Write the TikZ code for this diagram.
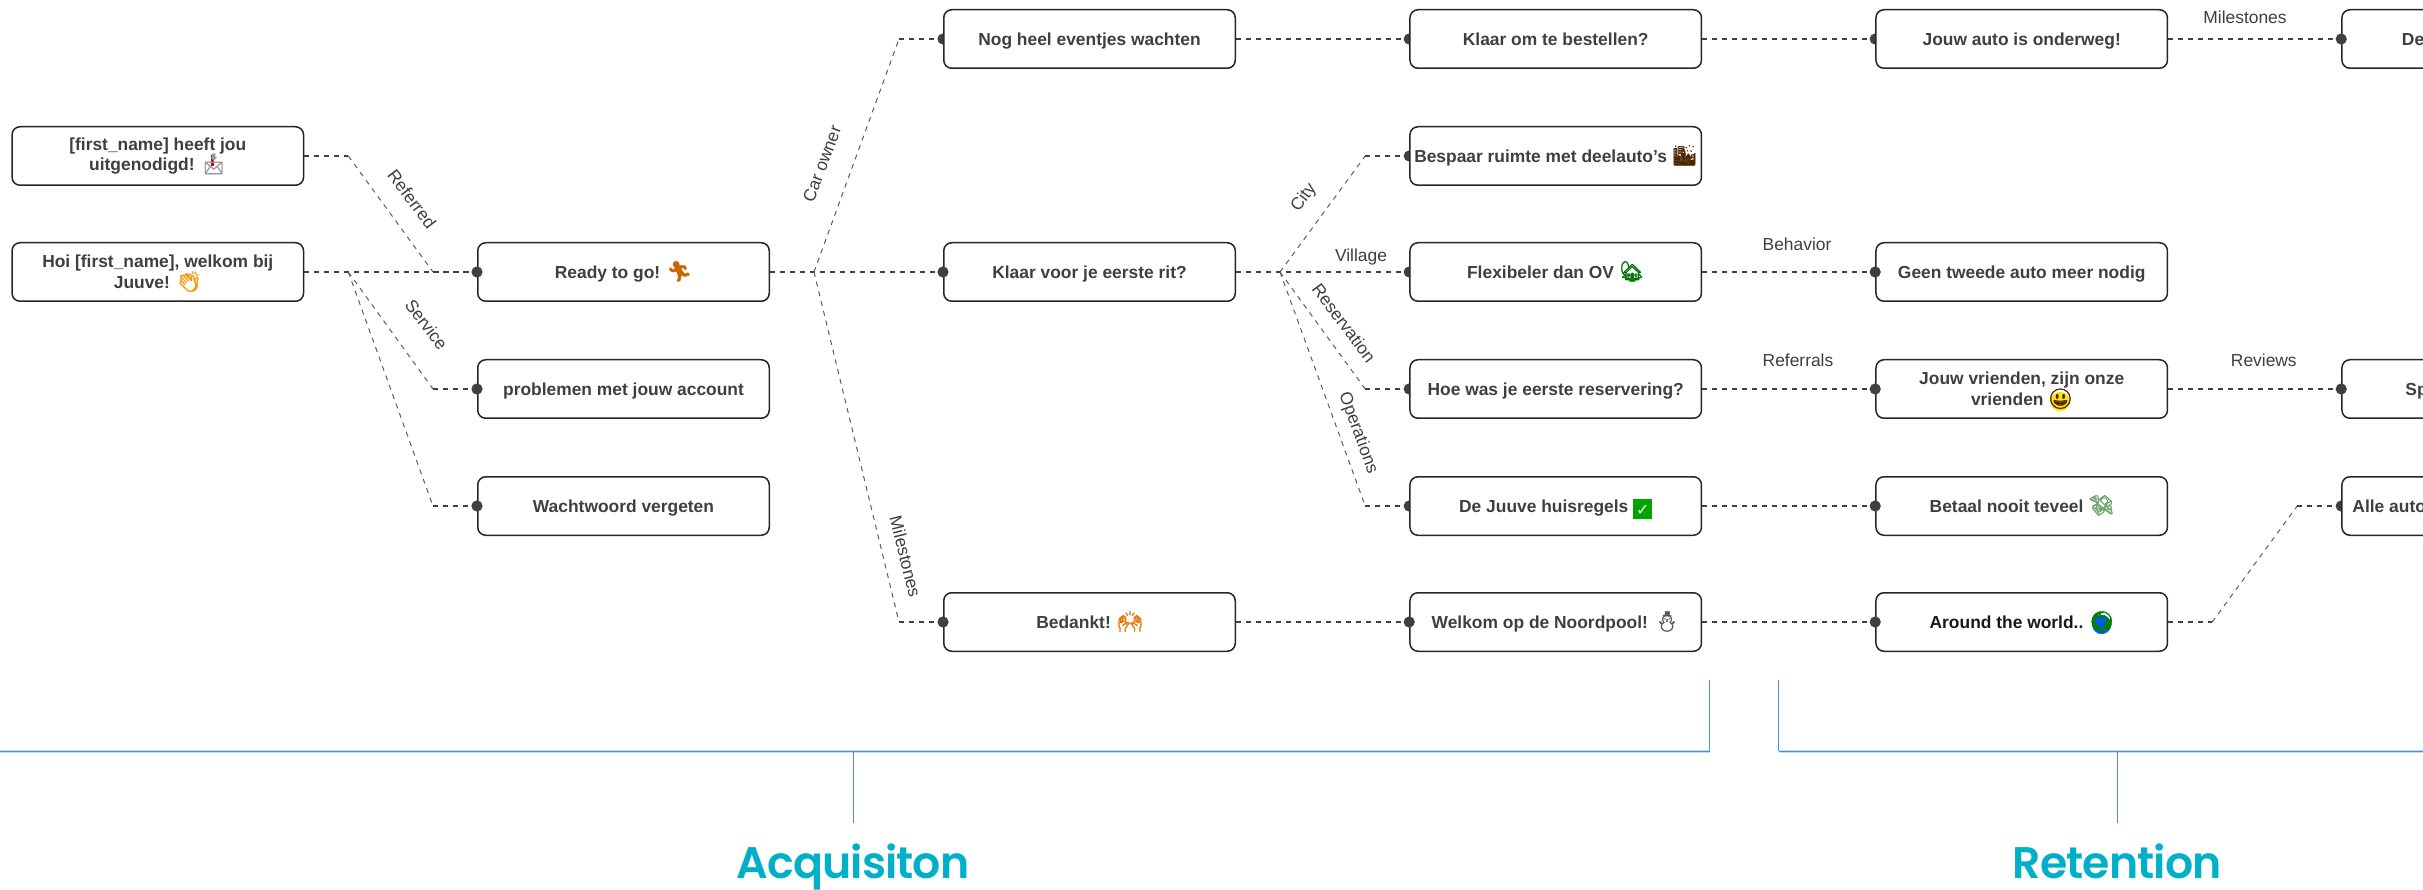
\documentclass[tikz,border=0pt]{standalone}
\usepackage{fontspec}
\usetikzlibrary{calc}
\setmainfont{Liberation Sans}
\newfontfamily\emojif{Noto Emoji}[FakeBold=1.6]
\newfontfamily\dejavuf{DejaVu Sans}
\newfontfamily\titlef{Poppins SemiBold}[LetterSpace=-2]
\definecolor{ink}{HTML}{3F3F3F}
\definecolor{edgeink}{HTML}{404040}
\definecolor{teal}{HTML}{00AFC8}
\definecolor{blueline}{HTML}{4A90D9}
\definecolor{paleblue}{HTML}{C6DCF3}
\newcommand\emo[2]{\smash{\textcolor{#1}{{\emojif\fontsize{20}{21}\selectfont #2}}}}
\newcommand\emobg[3]{\smash{\rlap{\makebox[24pt][c]{\raisebox{-3pt}{\textcolor{#1}{\dejavuf\fontsize{25}{25}\selectfont ●}}}}\makebox[24pt][c]{\emo{#2}{#3}}}}
\newcommand\checkbox{\smash{\raisebox{-3pt}{\fboxsep=1pt\colorbox{green!65!black}{\makebox[17pt][c]{\rule[-3pt]{0pt}{18pt}\textcolor{white}{\dejavuf\fontsize{16}{16}\selectfont ✓}}}}}}
\newcommand\mailemo{\smash{\rlap{\hspace{10.5pt}\textcolor{red!85!black}{\rule[5pt]{2.4pt}{11pt}}}\emo{black!40}{📩}}}
\newcommand\straight[2]{\draw[hseg] (#1.east) -- (#2.west);}
\newcommand\elbow[2]{%
  \draw[hseg] (#1.east) -- ++(44,0) coordinate (c1);
  \draw[dseg] (c1) -- ($(#2.west)+(-44,0)$) coordinate (c2);
  \draw[hseg] (c2) -- (#2.west);}
\newcommand\fulldot[1]{\fill[edgeink] (#1.west) circle (5.6pt);}
\newcommand\halfdot[1]{\begin{scope}\clip ($(#1.west)+(-8,-8)$) rectangle ($(#1.west)+(0,8)$);\fill[edgeink] (#1.west) circle (5.6pt);\end{scope}}
\tikzset{
  box/.style={draw=black!85,line width=1.5pt,rounded corners=8pt,fill=white,minimum width=291.5pt,minimum height=58.5pt,
    inner sep=0pt,align=center,text=ink,font=\fontsize{17.4}{20.7}\selectfont\bfseries},
  onebox/.style={box,execute at begin node={\rule[-5pt]{0pt}{22.5pt}}},
  hseg/.style={draw=edgeink,line width=1.8pt,dash pattern=on 5pt off 5pt},
  dseg/.style={draw=edgeink!85,line width=1pt,dash pattern=on 5pt off 5pt},
  lab/.style={text=ink,font=\fontsize{17.4}{20}\selectfont,inner sep=0pt},
  halo/.style={draw=paleblue,line width=3.2pt},
  hbar/.style={draw=blueline,line width=1.4pt},
  vbar/.style={draw=blueline,line width=1pt},
  big/.style={text=teal,font=\titlef\fontsize{44.2}{50}\selectfont,inner sep=0pt,anchor=base}
}
\begin{document}
\begin{tikzpicture}[x=1pt,y=-1pt]
\useasboundingbox (0,0) rectangle (2423,890);
\clip (0,0) rectangle (2423,890);
\fill[white] (0,0) rectangle (2423,890);
% column 0
\node[box] (invite) at (157.8,156) {[first\_name] heeft jou\\uitgenodigd! \mailemo};
\node[box] (hoi) at (157.8,272) {Hoi [first\_name], welkom bij\\Juuve! \emo{orange!85!yellow}{👏}};
% column 1
\node[onebox] (ready) at (623.5,272) {Ready to go! \emo{orange!80!black}{🏃}};
\node[onebox] (problem) at (623.5,389) {problemen met jouw account};
\node[onebox] (wacht) at (623.5,506) {Wachtwoord vergeten};
% column 2
\node[onebox] (nog) at (1089.5,39) {Nog heel eventjes wachten};
\node[onebox] (klaarrit) at (1089.5,272) {Klaar voor je eerste rit?};
\node[onebox] (bedankt) at (1089.5,622) {Bedankt! \emo{orange!90!black}{🙌}};
% column 3
\node[onebox] (bestellen) at (1555.7,39) {Klaar om te bestellen?};
\node[onebox] (bespaar) at (1555.7,156) {Bespaar ruimte met deelauto's \emo{black!70!orange}{🌆}};
\node[onebox] (flex) at (1555.7,272) {Flexibeler dan OV \emo{green!45!black}{🏡}};
\node[onebox] (hoe) at (1555.7,389) {Hoe was je eerste reservering?};
\node[onebox] (regels) at (1555.7,506) {De Juuve huisregels \checkbox};
\node[onebox] (noord) at (1555.7,622) {Welkom op de Noordpool! \emo{black!65}{⛄}};
% column 4
\node[onebox] (onderweg) at (2021.7,39) {Jouw auto is onderweg!};
\node[onebox] (tweede) at (2021.7,272) {Geen tweede auto meer nodig};
\node[box] (vrienden) at (2021.7,389) {Jouw vrienden, zijn onze\\vrienden \emobg{yellow!85!orange}{black!70!orange}{😃}};
\node[onebox] (betaal) at (2021.7,506) {Betaal nooit teveel \emo{green!35!black!55}{💸}};
\node[onebox,text=black!90] (world) at (2021.7,622) {Around the world.. \emobg{blue!65!cyan}{green!50!black}{🌍}};
% column 5 (runs off the picture)
\node[onebox] (de) at (2487.7,39) {\makebox[291.5pt][l]{\hspace{60pt}De}};
\node[onebox] (sp) at (2487.7,389) {\makebox[291.5pt][l]{\hspace{63.5pt}Sp}};
\node[onebox] (alle) at (2487.7,506) {\makebox[291.5pt][l]{\hspace{10.5pt}Alle auto}};
% connectors
\elbow{invite}{ready}
\straight{hoi}{ready}
\elbow{hoi}{problem}
\elbow{hoi}{wacht}
\straight{ready}{klaarrit}
\elbow{ready}{nog}
\elbow{ready}{bedankt}
\straight{nog}{bestellen}
\straight{bestellen}{onderweg}
\straight{onderweg}{de}
\elbow{klaarrit}{bespaar}
\straight{klaarrit}{flex}
\elbow{klaarrit}{hoe}
\elbow{klaarrit}{regels}
\straight{flex}{tweede}
\straight{hoe}{vrienden}
\straight{vrienden}{sp}
\straight{regels}{betaal}
\straight{bedankt}{noord}
\straight{noord}{world}
\elbow{world}{alle}
% end dots
\fulldot{ready}\fulldot{problem}\fulldot{wacht}\fulldot{klaarrit}\fulldot{bedankt}
\fulldot{noord}\fulldot{tweede}\fulldot{vrienden}\fulldot{betaal}\fulldot{world}
\fulldot{de}\fulldot{sp}
\halfdot{nog}\halfdot{bestellen}\halfdot{onderweg}\halfdot{bespaar}\halfdot{flex}\halfdot{hoe}\halfdot{regels}\halfdot{alle}
% connector labels
\node[lab,rotate=-53] (lReferred) at (412,199) {Referred};
\node[lab,rotate=-53] (lService) at (426.5,324.5) {Service};
\node[lab,rotate=69.5] (lCar) at (822,164) {Car owner};
\node[lab,rotate=-76] (lMile) at (905.5,556.5) {Milestones};
\node[lab,rotate=53] (lCity) at (1304,198) {City};
\node[lab] (lVillage) at (1361,257) {Village};
\node[lab,rotate=-53] (lRes) at (1344,323) {Reservation};
\node[lab,rotate=-70] (lOps) at (1358,433) {Operations};
\node[lab] (lBeh) at (1797,244) {Behavior};
\node[lab] (lRef) at (1798,360.4) {Referrals};
\node[lab] (lRev) at (2263.8,360.4) {Reviews};
\node[lab] (lMil2) at (2245,17.7) {Milestones};
% section brackets
\node[big] (acq) at (853,878) {Acquisiton};
\node[big] (ret) at (2117,878) {Retention};
\coordinate (acqTop) at (1709.5,680);
\coordinate (acqCorner) at (1709.5,751.3);
\coordinate (acqLeft) at (0,751.3);
\coordinate (acqMid) at (853,751.3);
\coordinate (acqEnd) at (853,823);
\coordinate (retTop) at (1778.6,680);
\coordinate (retCorner) at (1778.6,751.3);
\coordinate (retRight) at (2423,751.3);
\coordinate (retMid) at (2117,751.3);
\coordinate (retEnd) at (2117,823);
\draw[halo] (acqLeft) -- (acqCorner);
\draw[halo] (retCorner) -- (retRight);
\draw[hbar] (acqLeft) -- (acqCorner);
\draw[hbar] (retCorner) -- (retRight);
\draw[vbar] (acqCorner) -- (acqTop);
\draw[vbar] (retCorner) -- (retTop);
\draw[vbar] (acqMid) -- (acqEnd);
\draw[vbar] (retMid) -- (retEnd);
\end{tikzpicture}
\end{document}
